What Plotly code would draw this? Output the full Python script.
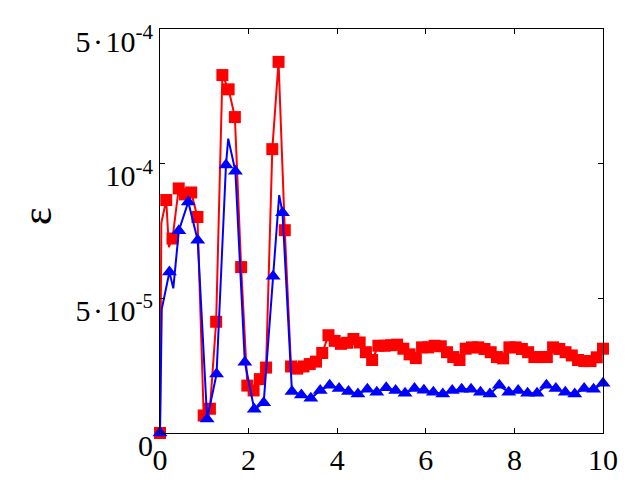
import numpy as np
import plotly.graph_objects as go

# y values in units of 1e-5 (axis units)
red_x = np.linspace(0, 10, 72)
red_y = [0.0, 8.65, 7.22, 9.08, 8.86, 8.93, 8.02, 0.65, 0.90, 4.13,
         13.29, 12.76, 11.73, 6.16, 1.76, 1.58, 2.00, 2.43, 10.54, 13.78,
         7.53, 2.47, 2.39, 2.47, 2.56, 2.65, 2.97, 3.63, 3.42, 3.31,
         3.35, 3.49, 3.36, 3.00, 2.71, 3.24, 3.24, 3.26, 3.28, 3.13,
         2.92, 2.78, 3.18, 3.18, 3.24, 3.22, 3.00, 2.82, 2.71, 3.13,
         3.18, 3.18, 3.12, 3.00, 2.82, 2.77, 3.18, 3.18, 3.12, 3.00,
         2.82, 2.82, 2.82, 3.18, 3.12, 3.00, 2.88, 2.71, 2.67, 2.67,
         2.81, 3.13]

blue_x = np.linspace(0, 10, 48)
blue_y = [0.0, 5.98, 7.51, 8.58, 7.16, 0.52, 2.19, 9.95, 9.72, 2.63,
          0.88, 1.12, 5.82, 8.18, 1.54, 1.41, 1.29, 1.58, 1.77, 1.65,
          1.54, 1.45, 1.62, 1.51, 1.68, 1.58, 1.48, 1.65, 1.59, 1.51,
          1.45, 1.58, 1.62, 1.62, 1.51, 1.45, 1.77, 1.51, 1.58, 1.48,
          1.48, 1.77, 1.65, 1.51, 1.45, 1.65, 1.62, 1.85]

# extra points of the finer curves between markers
red_extra_x = [0.03, 0.20]
red_extra_y = [7.8, 6.9]
blue_extra_x = [0.04, 0.30, 1.54, 2.69]
blue_extra_y = [4.6, 5.37, 10.93, 8.83]

ytick_vals = [0, 5, 10, 15]
ytick_text = ["0",
              "5\u200a\u00b7\u200a10<sup>-5</sup>",
              "10<sup>-4</sup>",
              "5\u200a\u00b7\u200a10<sup>-4</sup>"]
xtick_vals = [0, 2, 4, 6, 8, 10]


def merged(x, y, ex, ey):
    xs = np.concatenate([np.asarray(x, float), np.asarray(ex, float)])
    ys = np.concatenate([np.asarray(y, float), np.asarray(ey, float)])
    o = np.argsort(xs, kind="stable")
    return xs[o], ys[o]


rlx, rly = merged(red_x, red_y, red_extra_x, red_extra_y)
blx, bly = merged(blue_x, blue_y, blue_extra_x, blue_extra_y)

RED = "#ff0000"
BLUE = "#0000ff"

fig = go.Figure()
fig.add_trace(go.Scatter(x=rlx, y=rly, mode="lines", line=dict(color=RED, width=2),
                         showlegend=False, hoverinfo="skip"))
fig.add_trace(go.Scatter(x=red_x, y=red_y, mode="markers",
                         marker=dict(symbol="square", size=12, color=RED),
                         showlegend=False, cliponaxis=False))
fig.add_trace(go.Scatter(x=blx, y=bly, mode="lines", line=dict(color=BLUE, width=2),
                         showlegend=False, hoverinfo="skip"))
fig.add_trace(go.Scatter(x=blue_x, y=blue_y, mode="markers",
                         marker=dict(symbol="triangle-up", size=13, color=BLUE),
                         showlegend=False, cliponaxis=False))

font = "Liberation Serif, Times New Roman, serif"
axis_common = dict(showline=True, linecolor="black", linewidth=1, mirror="ticks",
                   ticks="inside", ticklen=5, tickcolor="black", tickwidth=1,
                   showgrid=False, zeroline=False,
                   tickfont=dict(family=font, size=30, color="black"))

fig.update_layout(
    width=640, height=480,
    margin=dict(l=152, r=45, t=12, b=47),
    paper_bgcolor="white", plot_bgcolor="white",
    xaxis=dict(range=[0, 10], tickvals=xtick_vals, **axis_common),
    yaxis=dict(range=[0, 15], tickvals=ytick_vals, ticktext=ytick_text,
               ticklabelshift=12, **axis_common),
    annotations=[dict(text="\u03b5", xref="paper", yref="paper", x=-0.278, y=0.537,
                      xanchor="center", yanchor="middle", textangle=-90, showarrow=False,
                      font=dict(family=font, size=42, color="black"))],
)

fig.write_html("out.html")
